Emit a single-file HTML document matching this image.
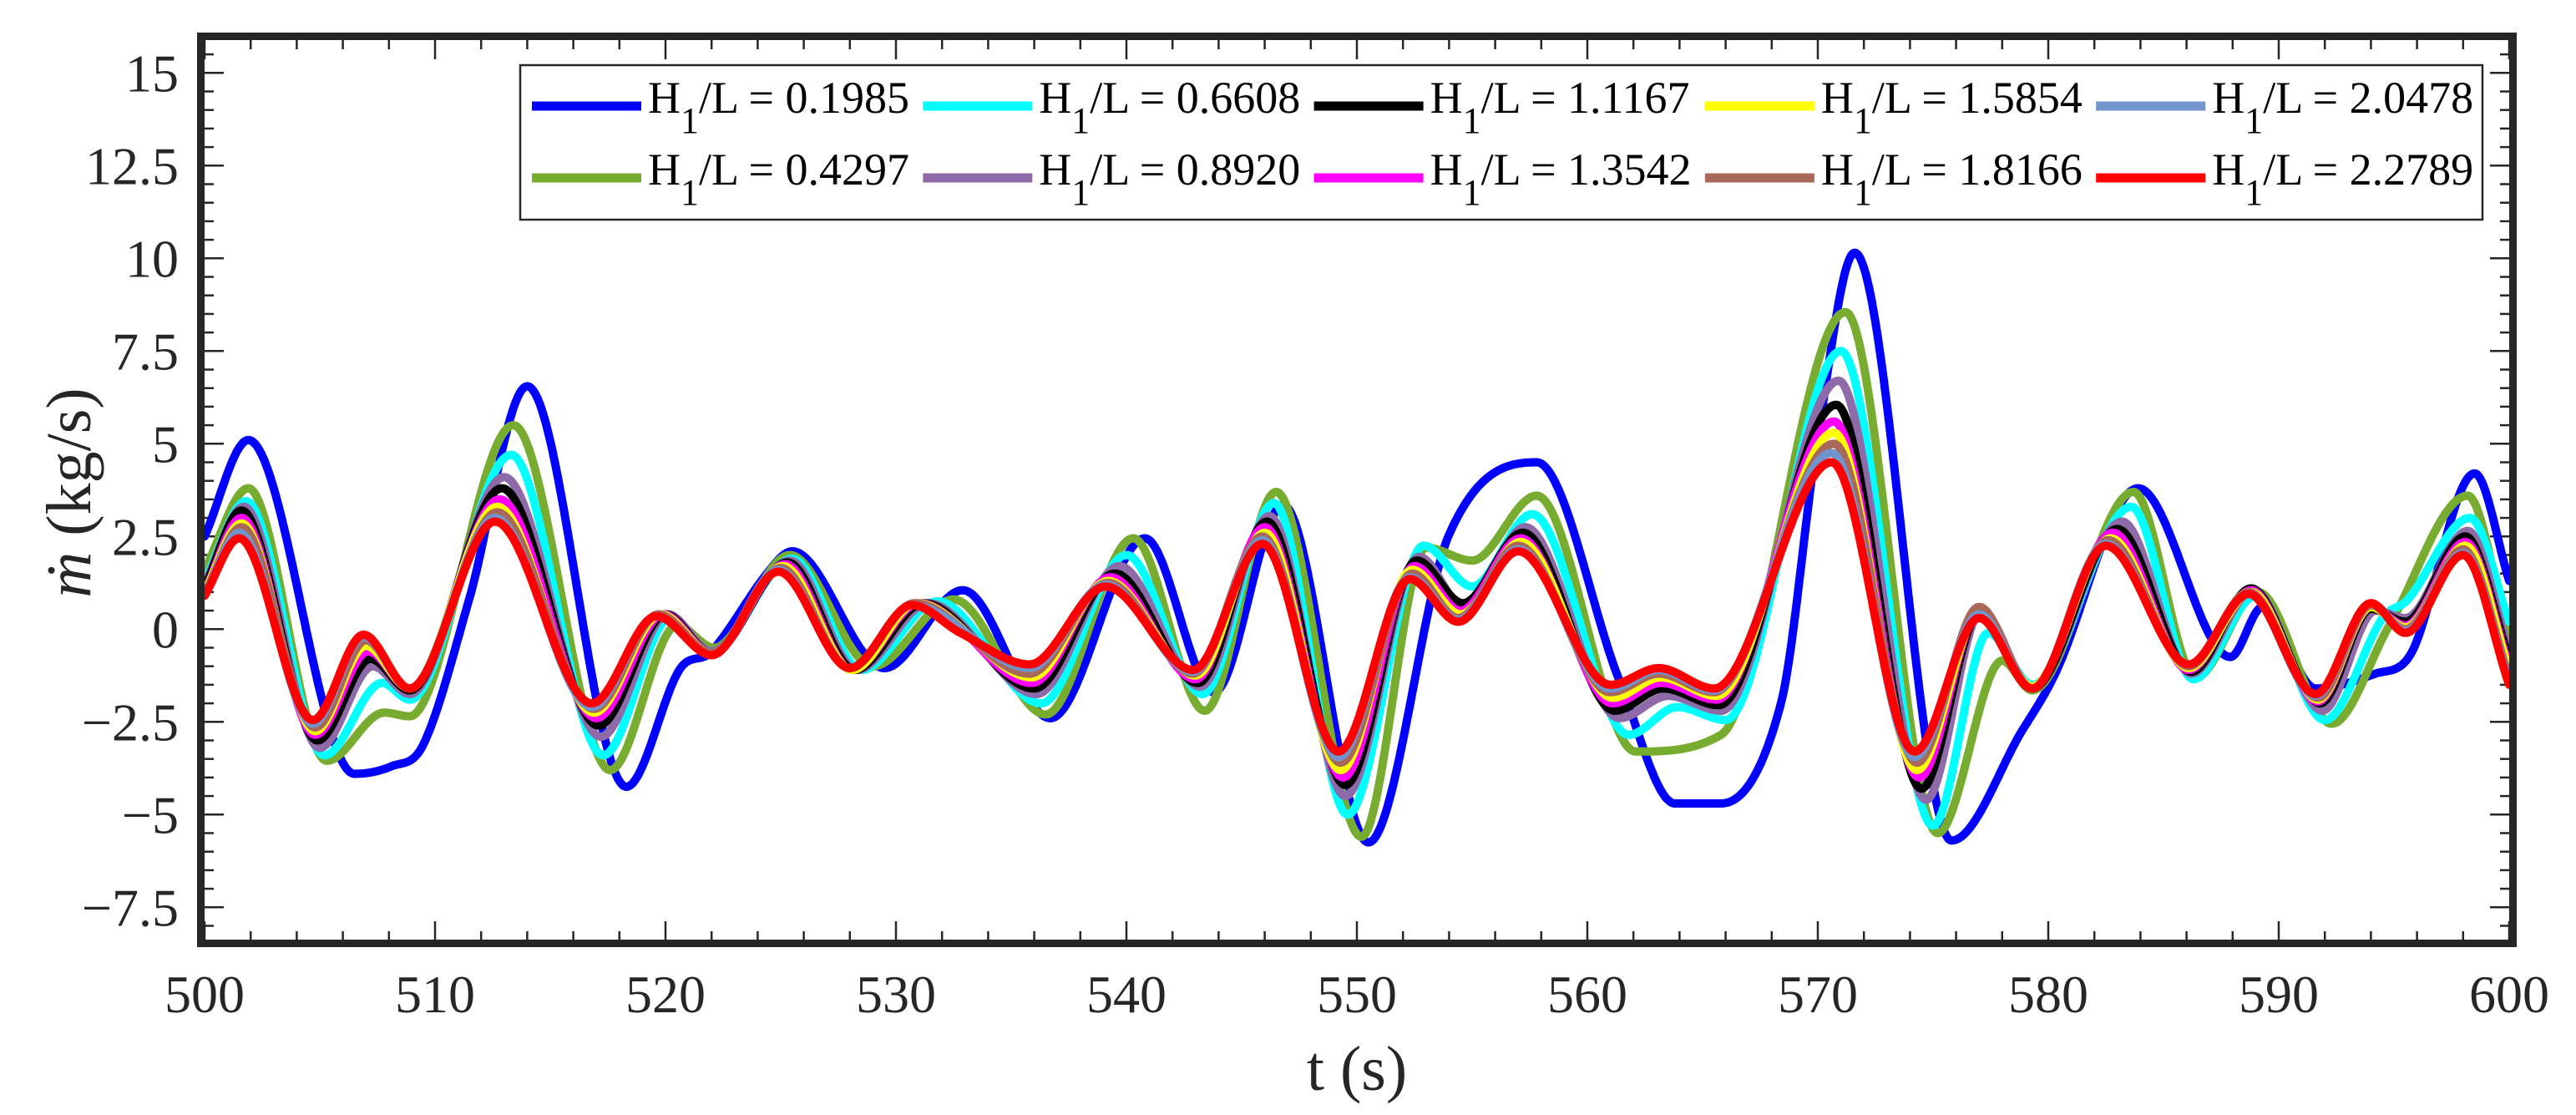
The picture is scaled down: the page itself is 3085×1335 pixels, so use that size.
<!DOCTYPE html>
<html><head><meta charset="utf-8">
<style>
html,body{margin:0;padding:0;background:#fff;}
svg{display:block;font-family:"Liberation Serif","Times New Roman",serif;}
</style></head>
<body>
<svg id="chart" width="3085" height="1335" viewBox="0 0 3085 1335" xmlns="http://www.w3.org/2000/svg">
<defs><clipPath id="plotclip"><rect x="245" y="48" width="2760" height="1078"/></clipPath></defs>
<g id="grid-ticks"></g>
<g id="series" clip-path="url(#plotclip)"></g>
<rect x="240.5" y="43.5" width="2769" height="1086" fill="none" stroke="#262626" stroke-width="9"/>
<g id="ticklabels" font-size="64" fill="#262626"></g>
<text x="1625" y="1305" font-size="76" text-anchor="middle" fill="#262626">t (s)</text>
<text transform="translate(108,590) rotate(-90)" font-size="76" text-anchor="middle" fill="#262626"><tspan font-style="italic">ṁ</tspan>  (kg/s)</text>
<g id="legend">
<rect x="623" y="78" width="2350" height="185" fill="#fff" stroke="#262626" stroke-width="2.5"/>
</g>
</svg>
<script>
const xTicksMajor = [500,510,520,530,540,550,560,570,580,590,600];
const yTickLabels = ["15","12.5","10","7.5","5","2.5","0","\u22122.5","\u22125","\u22127.5"];
const yTickValues = [15,12.5,10,7.5,5,2.5,0,-2.5,-5,-7.5];
const seriesNames = ["0.1985","0.4297","0.6608","0.8920","1.1167","1.3542","1.5854","1.8166","2.0478","2.2789"];
const seriesColors = ["#0000ff","#77ac30","#00ffff","#8e6aa8","#000000","#ff00ff","#ffff00","#a8695a","#7294cc","#ff0000"];
const s01985 = [[500,2.5],[501.9,5.1],[506.5,-3.9],[508.1,-3.7],[509.5,-3.1],[511.5,0.85],[514.0,6.55],[518.3,-4.25],[520.6,-1.1],[522.0,-0.6],[524.4,1.5],[525.5,2.1],[529.5,-1.05],[532.9,1.05],[536.7,-2.4],[540.8,2.45],[543.8,-1.7],[546.8,3.35],[550.5,-5.75],[554.0,2.55],[557.8,4.5],[561.4,-1.4],[563.8,-4.7],[565.8,-4.7],[568.4,-2.0],[570.0,5.2],[571.6,10.15],[575.8,-5.7],[578.9,-2.7],[580.3,-1.2],[583.9,3.8],[587.9,-0.75],[589.3,0.6],[591.6,-1.6],[594.2,-1.2],[595.7,-0.7],[598.5,4.2],[600,1.3]];
const s04297 = [[500,1.6],[501.9,3.8],[505.3,-3.55],[507.8,-2.25],[508.9,-2.35],[513.4,5.5],[517.6,-3.8],[520.5,0.1],[522.1,-0.5],[525.4,2.0],[529.0,-1.0],[532.5,0.8],[536.5,-2.3],[540.3,2.45],[543.4,-2.2],[546.5,3.7],[550.2,-5.6],[553.0,2.2],[555.0,1.85],[557.8,3.6],[562.1,-3.3],[565.8,-2.85],[571.2,8.55],[575.2,-5.5],[578.0,-0.85],[579.3,-1.65],[583.7,3.7],[586.4,-1.3],[589.1,1.0],[592.3,-2.55],[594.8,0.1],[598.2,3.6],[600,-0.3]];
const s06608 = [[500,1.3],[501.8,3.45],[505.2,-3.4],[507.7,-1.45],[508.9,-1.9],[513.3,4.7],[517.3,-3.4],[520.2,0.3],[522.0,-0.6],[525.5,1.9],[528.5,-1.1],[531.8,0.75],[536.3,-2.0],[540.0,2.0],[543.3,-1.75],[546.4,3.4],[549.6,-5.0],[552.9,2.25],[555.0,1.15],[557.6,3.1],[561.8,-2.85],[563.9,-2.1],[566.0,-2.45],[571.0,7.5],[575.0,-5.3],[577.4,-0.1],[579.3,-1.5],[583.6,3.3],[586.3,-1.35],[589.0,0.9],[592.0,-2.45],[594.5,0.3],[595.6,0.8],[598.3,3.0],[600,0.2]];
const s08920 = [[500,1.2],[501.7,3.3],[505.0,-3.2],[507.3,-1.0],[508.9,-1.75],[513.0,4.1],[517.2,-2.9],[520.1,0.4],[522.0,-0.6],[525.4,1.85],[528.3,-1.1],[531.4,0.7],[536.1,-1.75],[539.7,1.7],[543.2,-1.55],[546.2,3.05],[549.5,-4.5],[552.7,1.95],[554.7,0.55],[557.3,2.75],[561.4,-2.4],[563.5,-1.8],[565.8,-2.2],[570.9,6.7],[574.7,-4.6],[577.1,0.5],[579.3,-1.6],[583.2,2.9],[586.2,-1.2],[588.9,1.05],[591.9,-2.2],[594.2,0.5],[595.5,0.3],[598.2,2.65],[600,-0.6]];
const s11167 = [[500,1.1],[501.6,3.2],[504.9,-3.0],[507.2,-0.8],[508.9,-1.65],[512.9,3.8],[517.1,-2.6],[520.0,0.4],[522.0,-0.65],[525.3,1.8],[528.2,-1.1],[531.2,0.7],[536.0,-1.6],[539.5,1.5],[543.1,-1.45],[546.1,2.9],[549.5,-4.2],[552.6,1.85],[554.6,0.7],[557.2,2.6],[561.2,-2.2],[563.3,-1.6],[565.7,-2.05],[570.8,6.05],[574.5,-4.3],[577.0,0.4],[579.3,-1.6],[583.0,2.7],[586.2,-1.15],[588.8,1.1],[591.8,-2.0],[594.0,0.55],[595.5,0.2],[598.1,2.5],[600,-0.8]];
const s13542 = [[500,1.0],[501.6,3.0],[504.8,-2.85],[507.1,-0.6],[508.9,-1.6],[512.8,3.5],[517.0,-2.4],[519.9,0.4],[522.0,-0.65],[525.2,1.75],[528.1,-1.1],[531.0,0.7],[535.9,-1.45],[539.3,1.4],[543.0,-1.35],[546.0,2.75],[549.4,-4.0],[552.5,1.7],[554.5,0.5],[557.1,2.45],[561.1,-2.0],[563.2,-1.45],[565.6,-1.9],[570.7,5.6],[574.4,-4.0],[577.0,0.45],[579.3,-1.55],[582.8,2.6],[586.1,-1.1],[588.8,1.05],[591.7,-1.95],[594.0,0.6],[595.5,0.1],[598.1,2.35],[600,-1.0]];
const s15854 = [[500,1.0],[501.6,2.85],[504.8,-2.75],[507.0,-0.45],[508.9,-1.6],[512.7,3.3],[516.9,-2.25],[519.8,0.4],[522.0,-0.65],[525.1,1.7],[528.1,-1.1],[530.9,0.7],[535.9,-1.3],[539.2,1.3],[543.0,-1.25],[546.0,2.6],[549.3,-3.8],[552.4,1.6],[554.5,0.4],[557.1,2.35],[561.1,-1.85],[563.2,-1.3],[565.6,-1.8],[570.7,5.3],[574.3,-3.8],[577.0,0.4],[579.3,-1.55],[582.7,2.45],[586.1,-1.05],[588.8,1.0],[591.7,-1.9],[594.0,0.6],[595.5,0.05],[598.1,2.25],[600,-1.1]];
const s18166 = [[500,0.95],[501.6,2.75],[504.8,-2.65],[507.0,-0.3],[508.9,-1.6],[512.7,3.15],[516.9,-2.15],[519.7,0.4],[522.0,-0.65],[525.0,1.65],[528.0,-1.05],[530.8,0.7],[535.8,-1.2],[539.2,1.25],[542.9,-1.2],[545.9,2.5],[549.3,-3.6],[552.4,1.5],[554.4,0.3],[557.0,2.25],[561.0,-1.7],[563.1,-1.2],[565.5,-1.7],[570.7,5.0],[574.3,-3.6],[577.0,0.6],[579.3,-1.6],[582.6,2.4],[586.1,-1.0],[588.7,1.0],[591.7,-1.85],[594.0,0.65],[595.5,0.0],[598.0,2.15],[600,-1.3]];
const s20478 = [[500,0.9],[501.5,2.6],[504.7,-2.55],[506.9,-0.2],[508.9,-1.6],[512.6,3.0],[516.8,-2.1],[519.6,0.35],[522.0,-0.7],[524.9,1.6],[528.0,-1.05],[530.7,0.65],[535.8,-1.05],[539.1,1.2],[542.9,-1.15],[545.9,2.4],[549.2,-3.45],[552.3,1.4],[554.4,0.25],[557.0,2.15],[561.0,-1.6],[563.1,-1.1],[565.5,-1.65],[570.6,4.75],[574.2,-3.45],[577.0,0.4],[579.3,-1.6],[582.5,2.3],[586.1,-0.95],[588.7,0.95],[591.6,-1.8],[594.0,0.7],[595.5,-0.05],[598.0,2.05],[600,-1.4]];
const s22789 = [[500,0.9],[501.5,2.45],[504.7,-2.45],[506.9,-0.15],[508.9,-1.6],[512.6,2.9],[516.8,-2.0],[519.6,0.35],[522.0,-0.7],[524.9,1.55],[528.0,-1.05],[530.7,0.65],[532.8,-0.1],[535.8,-0.95],[539.1,1.15],[542.9,-1.1],[545.9,2.3],[549.2,-3.3],[552.3,1.35],[554.4,0.2],[557.0,2.1],[561.0,-1.5],[563.1,-1.05],[565.5,-1.6],[570.6,4.5],[574.2,-3.3],[577.0,0.3],[579.3,-1.6],[582.5,2.25],[586.1,-0.95],[588.7,0.95],[591.6,-1.75],[594.0,0.7],[595.5,-0.1],[598.0,2.0],[600,-1.5]];
const allSeries = [s01985,s04297,s06608,s08920,s11167,s13542,s15854,s18166,s20478,s22789];

const NS = "http://www.w3.org/2000/svg";
const X0=245, X1=3005, T0=500, T1=600;
const Y0PX=753.3, PXU=44.4;
function xs(t){return X0+(t-T0)*(X1-X0)/(T1-T0);}
function ys(v){return Y0PX-v*PXU;}
function mk(tag,attrs){const e=document.createElementNS(NS,tag);for(const k in attrs)e.setAttribute(k,attrs[k]);return e;}

// smooth Hermite interpolation: centered tangents, zero slope at extrema
function smoothInterp(pts){
  const n=pts.length, xa=pts.map(p=>p[0]), ya=pts.map(p=>p[1]);
  const d=[],m=new Array(n);
  for(let i=0;i<n-1;i++) d.push((ya[i+1]-ya[i])/(xa[i+1]-xa[i]));
  m[0]=d[0]; m[n-1]=d[n-2];
  for(let i=1;i<n-1;i++){
    if(d[i-1]*d[i]<=0) m[i]=0;
    else { let c=(ya[i+1]-ya[i-1])/(xa[i+1]-xa[i-1]); const lim=3*Math.min(Math.abs(d[i-1]),Math.abs(d[i])); if(Math.abs(c)>lim) c=Math.sign(c)*lim; m[i]=c; }
  }
  return function(t){
    let i=0; while(i<n-2 && t>xa[i+1]) i++;
    const h=xa[i+1]-xa[i], s=(t-xa[i])/h;
    const h00=2*s*s*s-3*s*s+1,h10=s*s*s-2*s*s+s,h01=-2*s*s*s+3*s*s,h11=s*s*s-s*s;
    return h00*ya[i]+h10*h*m[i]+h01*ya[i+1]+h11*h*m[i+1];
  };
}

const gs=document.getElementById('series');
allSeries.forEach((pts,i)=>{
  const f=smoothInterp(pts);
  let d="";
  for(let t=T0;t<=T1+1e-9;t+=0.05){ d+=(d?"L":"M")+xs(t).toFixed(1)+","+ys(f(t)).toFixed(1); }
  const p=mk('path',{d:d,fill:'none',stroke:seriesColors[i],'stroke-width':10,'stroke-linejoin':'round','stroke-linecap':'round'});
  
  
  gs.appendChild(p);
});

// ticks
const gt=document.getElementById('grid-ticks');
const tl=document.getElementById('ticklabels');
for(let t=500;t<=600;t+=2){
  const major=(t%10===0), L=major?23:11;
  [[48,48+L],[1126,1126-L]].forEach(([a,b])=>{
    const ln=mk('line',{x1:xs(t),x2:xs(t),y1:a,y2:b,stroke:'#262626','stroke-width':2.5});
    
    
    gt.appendChild(ln);
  });
}
for(let k=-16;k<=31;k++){
  const v=k*0.5; const y=ys(v); if(y<48||y>1126) continue;
  const major=(k%5===0), L=major?23:11;
  [[245,245+L],[3005,3005-L]].forEach(([a,b])=>{
    const ln=mk('line',{x1:a,x2:b,y1:y,y2:y,stroke:'#262626','stroke-width':2.5});
    
    
    gt.appendChild(ln);
  });
}
xTicksMajor.forEach(t=>{
  const e=mk('text',{x:xs(t),y:1212,'text-anchor':'middle'}); e.textContent=String(t);
  
  
  tl.appendChild(e);
});
yTickValues.forEach((v,i)=>{
  const e=mk('text',{x:214,y:ys(v)+22,'text-anchor':'end'}); e.textContent=yTickLabels[i];
  
  
  tl.appendChild(e);
});

// legend
const lg=document.getElementById('legend');
const legendOrder=[0,2,4,6,8,1,3,5,7,9];
legendOrder.forEach((si,j)=>{
  const row=j<5?0:1, col=j%5;
  const lx=637+col*468.3, ly=127+row*86;
  const ln=mk('line',{x1:lx,x2:lx+131,y1:ly,y2:ly,stroke:seriesColors[si],'stroke-width':11});
  
  
  lg.appendChild(ln);
  const tx=mk('text',{x:lx+139,y:ly+8,'font-size':54,fill:'#000'});
  
  
  tx.innerHTML='H<tspan font-size="44" dy="24">1</tspan><tspan dy="-24">/L = '+seriesNames[si]+'</tspan>';
  lg.appendChild(tx);
});
</script>
</body></html>
